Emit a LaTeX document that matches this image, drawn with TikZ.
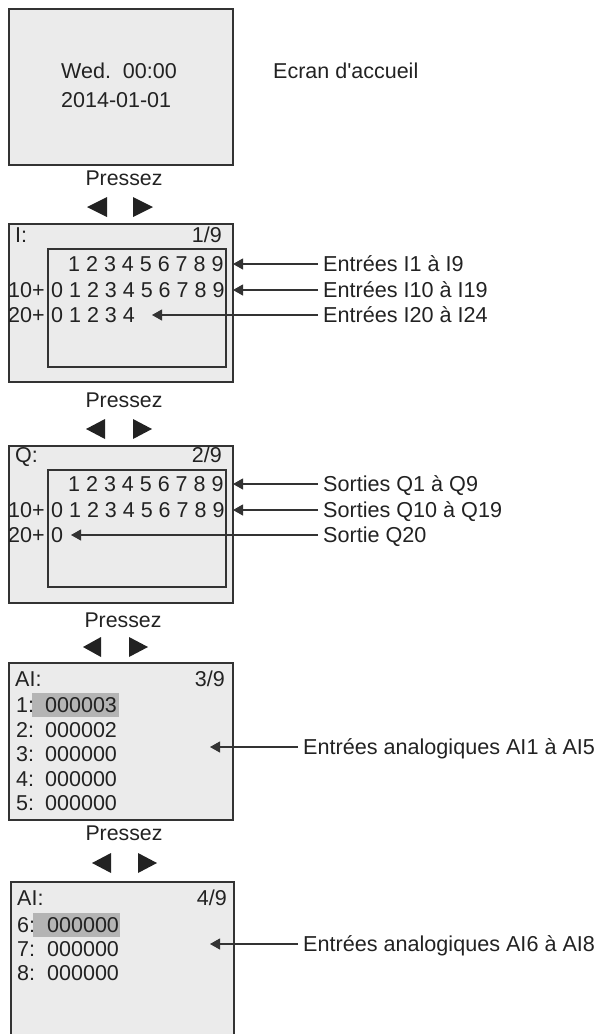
\documentclass[tikz,border=0pt]{standalone}
\usepackage{fontspec}
\setmainfont{Liberation Sans}[Ligatures=TeXOff]
\usetikzlibrary{arrows.meta}
\definecolor{scrfill}{HTML}{EBEBEB}
\definecolor{hl}{HTML}{B4B4B4}
\definecolor{edge}{HTML}{333333}
\definecolor{ink}{HTML}{222222}
\begin{document}
\begin{tikzpicture}[x=1pt,y=-1pt,
  screen/.style={draw=edge, fill=scrfill, line width=1.4pt},
  innerbox/.style={draw=edge, line width=1.1pt},
  txt/.style={inner sep=0pt, anchor=west, text height=15pt, text depth=0pt,
    font=\fontsize{21.5}{25}\selectfont, text=ink},
  txtr/.style={txt, anchor=east},
  lab/.style={anchor=west, inner sep=0pt, inner xsep=5pt, text height=15pt, text depth=0pt,
    font=\fontsize{21.6}{25}\selectfont, text=ink},
  ptr/.style={-{Triangle[length=10pt,width=11pt]}, line width=1.1pt, draw=edge},
  press/.style={inner sep=0pt, text height=15pt, text depth=0pt,
    font=\fontsize{21.3}{25}\selectfont, text=ink},
  tri/.style={fill=ink},
  hlbox/.style={fill=hl}]
\useasboundingbox (0,0) rectangle (597,1034);

% ---------- Screen 1 : home screen
\path[screen] (9,9) rectangle (233,165);
\node[txt] (wed) at (61,71) {Wed.\ \ 00:00};
\node[txt] (date) at (61,100) {2014-01-01};
\node[txt] (ecran) at (273,71) {Ecran d'accueil};

\node[press] (p1) at (124,178) {Pressez};
\fill[tri] (87,207) -- (107,197) -- (107,217) -- cycle;
\fill[tri] (153,207) -- (133,197) -- (133,217) -- cycle;

% ---------- Screen 2 : I
\path[screen] (9,224) rectangle (233,382);
\draw[innerbox] (48,249) rectangle (226,367);
\node[txt] (iT) at (15,235) {I:};
\node[txtr] (iP) at (222,235) {1/9};
\node[txt] (iR1) at (68,264) {1 2 3 4 5 6 7 8 9};
\node[txt] (iA2) at (8,290) {10+};
\node[txt] (iR2) at (51,290) {0 1 2 3 4 5 6 7 8 9};
\node[txt] (iA3) at (8,315) {20+};
\node[txt] (iR3) at (51,315) {0 1 2 3 4};
\coordinate (tI1) at (233,264);
\coordinate (tI2) at (233,290);
\coordinate (tI3) at (152,315);
\node[lab] (lI1) at (318,264) {Entrées I1 à I9};
\node[lab] (lI2) at (318,290) {Entrées I10 à I19};
\node[lab] (lI3) at (318,315) {Entrées I20 à I24};
\draw[ptr] (lI1.west) -- (tI1);
\draw[ptr] (lI2.west) -- (tI2);
\draw[ptr] (lI3.west) -- (tI3);

\node[press] (p2) at (124,400) {Pressez};
\fill[tri] (86,429) -- (105,419) -- (105,439) -- cycle;
\fill[tri] (152,429) -- (133,419) -- (133,439) -- cycle;

% ---------- Screen 3 : Q
\path[screen] (9,446) rectangle (233,603);
\draw[innerbox] (48,470) rectangle (226,587);
\node[txt] (qT) at (15,455) {Q:};
\node[txtr] (qP) at (222,455) {2/9};
\node[txt] (qR1) at (68,484) {1 2 3 4 5 6 7 8 9};
\node[txt] (qA2) at (8,510) {10+};
\node[txt] (qR2) at (51,510) {0 1 2 3 4 5 6 7 8 9};
\node[txt] (qA3) at (8,535) {20+};
\node[txt] (qR3) at (51,535) {0};
\coordinate (tQ1) at (233,484);
\coordinate (tQ2) at (233,510);
\coordinate (tQ3) at (71,535);
\node[lab] (lQ1) at (318,484) {Sorties Q1 à Q9};
\node[lab] (lQ2) at (318,510) {Sorties Q10 à Q19};
\node[lab] (lQ3) at (318,535) {Sortie Q20};
\draw[ptr] (lQ1.west) -- (tQ1);
\draw[ptr] (lQ2.west) -- (tQ2);
\draw[ptr] (lQ3.west) -- (tQ3);

\node[press] (p3) at (123,620) {Pressez};
\fill[tri] (83,647) -- (101,637) -- (101,657) -- cycle;
\fill[tri] (148,647) -- (129,637) -- (129,657) -- cycle;

% ---------- Screen 4 : AI 3/9
\path[screen] (9,663) rectangle (233,820);
\fill[hlbox] (32,693) rectangle (119,717);
\node[txt] (a3T) at (15,679) {AI:};
\node[txtr] (a3P) at (225,679) {3/9};
\node[txt] (a3n1) at (16,705) {1:};
\node[txt] (a3v1) at (45,705) {000003};
\node[txt] (a3n2) at (16,729.5) {2:};
\node[txt] (a3v2) at (45,729.5) {000002};
\node[txt] (a3n3) at (16,754) {3:};
\node[txt] (a3v3) at (45,754) {000000};
\node[txt] (a3n4) at (16,778.5) {4:};
\node[txt] (a3v4) at (45,778.5) {000000};
\node[txt] (a3n5) at (16,803) {5:};
\node[txt] (a3v5) at (45,803) {000000};
\coordinate (tA3) at (210,747);
\node[lab] (lA3) at (298,747) {Entrées analogiques AI1 à AI5};
\draw[ptr] (lA3.west) -- (tA3);

\node[press] (p4) at (124,833) {Pressez};
\fill[tri] (92,863) -- (111,853) -- (111,873) -- cycle;
\fill[tri] (157,863) -- (138,853) -- (138,873) -- cycle;

% ---------- Screen 5 : AI 4/9 (runs off the bottom)
\fill[scrfill] (11,882) rectangle (234,1040);
\draw[draw=edge, line width=1.4pt] (11,1040) -- (11,882) -- (234,882) -- (234,1040);
\fill[hlbox] (33,913) rectangle (120,937);
\node[txt] (a4T) at (17,898) {AI:};
\node[txtr] (a4P) at (227,898) {4/9};
\node[txt] (a4n6) at (17,925) {6:};
\node[txt] (a4v6) at (47,925) {000000};
\node[txt] (a4n7) at (17,949) {7:};
\node[txt] (a4v7) at (47,949) {000000};
\node[txt] (a4n8) at (17,973) {8:};
\node[txt] (a4v8) at (47,973) {000000};
\coordinate (tA4) at (210,944);
\node[lab] (lA4) at (298,944) {Entrées analogiques AI6 à AI8};
\draw[ptr] (lA4.west) -- (tA4);
\end{tikzpicture}
\end{document}
